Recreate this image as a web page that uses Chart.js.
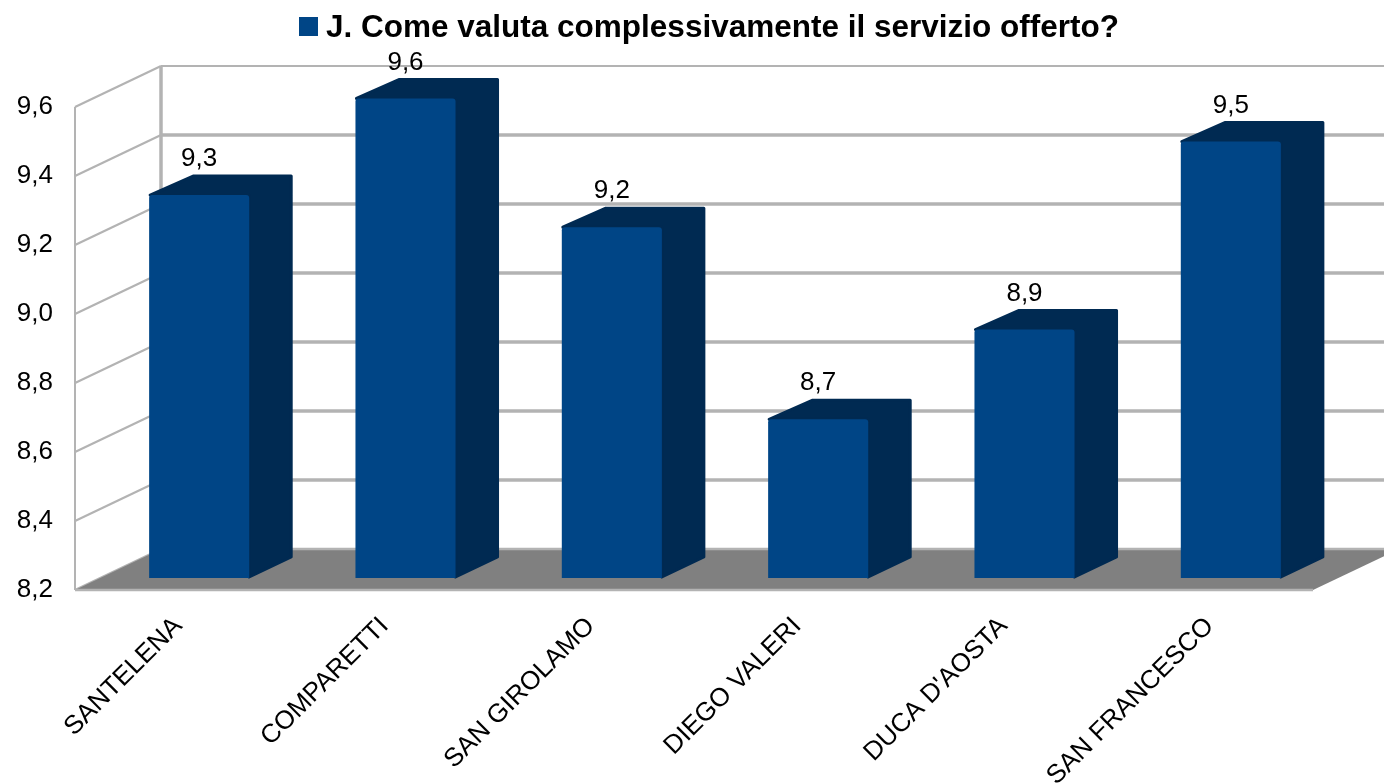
<!DOCTYPE html>
<html>
<head>
<meta charset="utf-8">
<style>html,body{margin:0;padding:0;background:#fff}canvas{display:block;filter:blur(0.5px)}</style>
<script src="https://cdn.jsdelivr.net/npm/chart.js@4"></script>
</head>
<body>
<canvas id="c" width="1384" height="784"></canvas>
<script>
const categories = ["SANTELENA","COMPARETTI","SAN GIROLAMO","DIEGO VALERI","DUCA D'AOSTA","SAN FRANCESCO"];
const seriesName = "J. Come valuta complessivamente il servizio offerto?";
const seriesValues = [9.31,9.59,9.217,8.66,8.92,9.465];

const FONT = '"Liberation Sans", Arial, sans-serif';
const comma = v => Number(v).toFixed(1).replace('.', ',');
const BLUE = '#004586', DARK = '#002a52', GRID = '#b3b3b3', FLOOR = '#808080';
const DEPTH = {x:86, y:-41}, BAR_SHIFT = {x:21, y:-12}, BAR_DEPTH = {x:43, y:-20};

function poly(ctx, pts){ctx.beginPath();pts.forEach((p,i)=>i?ctx.lineTo(p[0],p[1]):ctx.moveTo(p[0],p[1]));ctx.closePath();}

const walls = {
  id:'walls',
  beforeDatasetsDraw(chart){
    const {ctx, scales:{x,y}, width} = chart;
    const L=x.left, R=x.right, B=y.bottom, T=y.top;
    ctx.save();
    const vals = y.ticks.map(t=>t.value);
    vals.forEach((v,i)=>{
      const py = y.getPixelForValue(v);
      if(i>0){
        ctx.strokeStyle=GRID;ctx.lineWidth=i===vals.length-1?2:3.5;
        ctx.beginPath();ctx.moveTo(L+DEPTH.x,py+DEPTH.y);ctx.lineTo(width,py+DEPTH.y);ctx.stroke();
      }
      ctx.strokeStyle=GRID;ctx.lineWidth=2.2;
      ctx.beginPath();ctx.moveTo(L,py);ctx.lineTo(L+DEPTH.x,py+DEPTH.y);ctx.stroke();
    });
    ctx.strokeStyle=GRID;ctx.lineWidth=2;
    ctx.beginPath();ctx.moveTo(L,T);ctx.lineTo(L,B);ctx.stroke();
    ctx.lineWidth=3.5;
    ctx.beginPath();ctx.moveTo(L+DEPTH.x,T+DEPTH.y);ctx.lineTo(L+DEPTH.x,B+DEPTH.y);ctx.stroke();
    ctx.fillStyle=FLOOR;
    poly(ctx,[[L,B],[L+DEPTH.x,B+DEPTH.y],[R+DEPTH.x,B+DEPTH.y],[R,B]]);ctx.fill();
    ctx.strokeStyle=GRID;ctx.lineWidth=2.5;
    ctx.beginPath();ctx.moveTo(L+DEPTH.x,B+DEPTH.y);ctx.lineTo(width,B+DEPTH.y);ctx.stroke();
    ctx.beginPath();ctx.moveTo(L,B);ctx.lineTo(R,B);ctx.stroke();
    ctx.restore();
  },
  beforeDatasetDraw(chart,args){
    const ctx=chart.ctx;
    ctx.save();
    ctx.translate(BAR_SHIFT.x,BAR_SHIFT.y);
    ctx.fillStyle=DARK;ctx.strokeStyle=DARK;ctx.lineWidth=3;ctx.lineJoin='round';
    args.meta.data.forEach(el=>{
      const l=el.x-el.width/2,r=el.x+el.width/2,t=el.y,b=el.base;
      poly(ctx,[[l+1,t],[l+1+BAR_DEPTH.x,t+BAR_DEPTH.y+1],[r+BAR_DEPTH.x-1,t+BAR_DEPTH.y+1],[r+BAR_DEPTH.x-1,b+BAR_DEPTH.y-1],[r,b-1],[r,t]]);
      ctx.fill();ctx.stroke();
    });
  },
  afterDatasetDraw(chart,args){
    const ctx=chart.ctx;
    ctx.restore();
    ctx.save();
    ctx.fillStyle='#000';ctx.font='26px '+FONT;ctx.textAlign='center';ctx.textBaseline='middle';
    args.meta.data.forEach((el,i)=>{
      ctx.fillText(comma(seriesValues[i]),el.x+BAR_SHIFT.x,el.y+BAR_SHIFT.y-36);
    });
    ctx.restore();
  },
  afterDraw(chart){
    const ctx=chart.ctx;
    ctx.save();
    ctx.fillStyle=BLUE;ctx.fillRect(299,17,19,19);
    ctx.fillStyle='#000';ctx.font='bold 31.5px '+FONT;ctx.textAlign='left';ctx.textBaseline='middle';
    ctx.fillText(chart.data.datasets[0].label,326,28);
    ctx.restore();
  }
};

new Chart(document.getElementById('c'),{
  type:'bar',
  data:{labels:categories,datasets:[{label:seriesName,data:seriesValues,base:8.2,backgroundColor:BLUE,borderWidth:0,borderRadius:3,barPercentage:0.485,categoryPercentage:1,clip:false}]},
  plugins:[walls],
  options:{
    responsive:false,animation:false,
    layout:{padding:{top:107,right:71,bottom:0,left:0}},
    plugins:{legend:{display:false},title:{display:false},tooltip:{enabled:false}},
    scales:{
      x:{
        grid:{display:false,drawTicks:false},border:{display:false},
        afterFit(s){s.height=194;},
        ticks:{autoSkip:false,minRotation:45,maxRotation:45,padding:21,color:'#000',font:{family:FONT,size:26}}
      },
      y:{
        min:8.2,max:9.6,
        grid:{display:false,drawTicks:false},border:{display:false},
        afterFit(s){s.width=75;},
        ticks:{stepSize:0.2,padding:22,color:'#000',font:{family:FONT,size:26},callback:v=>comma(v)}
      }
    }
  }
});
</script>
</body>
</html>
